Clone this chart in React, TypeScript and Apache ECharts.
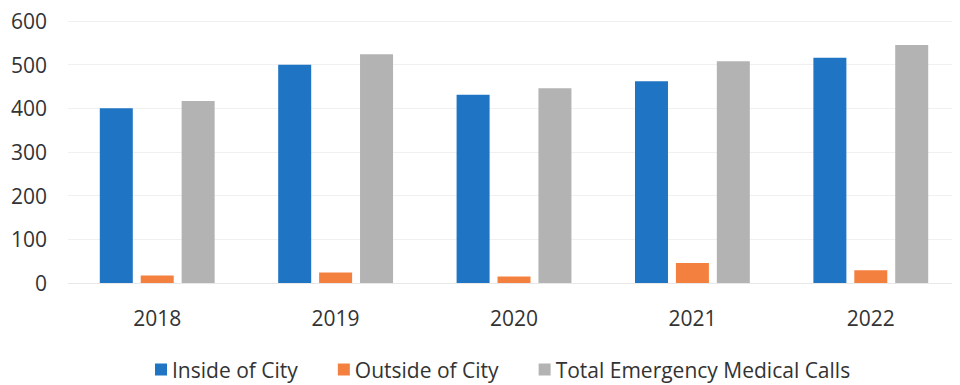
import React, { useEffect, useRef } from "react";
import * as echarts from "echarts";

const categories = ["2018", "2019", "2020", "2021", "2022"];
const insideCity = [400, 500, 431, 462, 516];
const outsideCity = [17, 24, 15, 46, 29];
const totalCalls = [417, 524, 446, 508, 545];
const seriesNames = ["Inside of City", "Outside of City", "Total Emergency Medical Calls"];
const colors = ["#1f74c4", "#f4803f", "#b3b3b3"];

export default function App() {
  const ref = useRef<HTMLDivElement>(null);
  useEffect(() => {
    if (!ref.current) return;
    const chart = echarts.init(ref.current, undefined, { renderer: "svg" });
    const font = "'Open Sans', sans-serif";
    chart.setOption({
      animation: false,
      textStyle: { fontFamily: font },
      grid: { left: 59, right: -8, top: 13, bottom: 102, containLabel: false },
      legend: {
        bottom: 0,
        left: 142,
        itemWidth: 12,
        itemHeight: 12,
        itemGap: 40,
        icon: "rect",
        textStyle: { fontSize: 21, color: "#333", fontFamily: font },
        data: seriesNames,
      },
      xAxis: {
        type: "category",
        data: categories,
        axisTick: { show: false },
        axisLine: { lineStyle: { color: "#e8e8e8" } },
        axisLabel: { fontSize: 21, color: "#333", margin: 24, fontFamily: font },
      },
      yAxis: {
        type: "value",
        min: 0,
        max: 600,
        interval: 100,
        axisLabel: { fontSize: 21, color: "#333", margin: 21, fontFamily: font },
        splitLine: { lineStyle: { color: "#f0f0f0" } },
        axisLine: { show: false },
        axisTick: { show: false },
      },
      series: [
        { name: seriesNames[0], type: "bar", data: insideCity, barWidth: 33, barGap: "24%", itemStyle: { color: colors[0] } },
        { name: seriesNames[1], type: "bar", data: outsideCity, barWidth: 33, barGap: "24%", itemStyle: { color: colors[1] } },
        { name: seriesNames[2], type: "bar", data: totalCalls, barWidth: 33, barGap: "24%", itemStyle: { color: colors[2] } },
      ],
    });
    return () => chart.dispose();
  }, []);
  return <div ref={ref} style={{ width: 952, height: 377 }} />;
}
